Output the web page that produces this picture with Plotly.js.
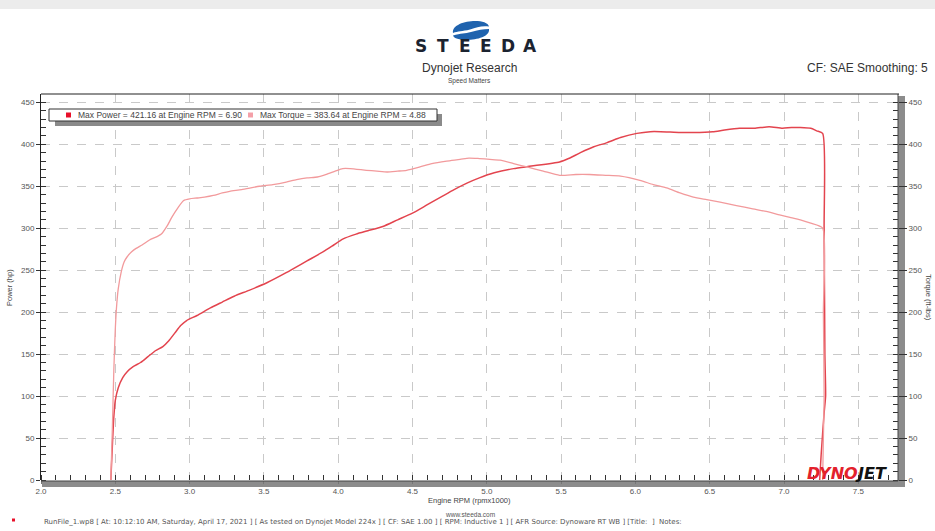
<!DOCTYPE html>
<html>
<head>
<meta charset="utf-8">
<script src="https://cdn.plot.ly/plotly-3.0.1.min.js"></script>
<style>
html,body{margin:0;padding:0;background:#fff;}
#chart{width:935px;height:531px;}
</style>
</head>
<body>
<div id="chart"></div>
<script>
// ---------------- DATA ----------------
const powerRpm = [2.47,2.48,2.49,2.50,2.52,2.55,2.58,2.62,2.67,2.72,2.77,2.82,2.86,2.90,2.94,2.98,3.05,3.14,3.22,3.30,3.40,3.52,3.65,3.79,3.90,3.97,4.03,4.12,4.20,4.30,4.40,4.50,4.60,4.69,4.78,4.87,4.95,5.05,5.18,5.30,5.49,5.55,5.63,5.72,5.81,5.90,6.01,6.10,6.17,6.30,6.39,6.52,6.60,6.70,6.80,6.90,6.99,7.05,7.11,7.18,7.22,7.26,7.27,7.275,7.28,7.27,7.25,7.24];
const powerHp  = [0,40,75,95,110,122,129,135,140,147,154,159,166,175,184,190,196,205,212,219,226,235,247,261,272,280,287,293,297,302,310,318,328,337,346,354,360,366,371,374,379,383,390,397,402,408,413,415,415,414,414,415,417,419,419,421,419,420,420,419,416,413,300,150,100,80,30,0];

const torqueRpm = [2.47,2.48,2.49,2.50,2.51,2.52,2.54,2.56,2.58,2.61,2.64,2.68,2.73,2.78,2.81,2.85,2.88,2.92,2.96,3.00,3.05,3.10,3.16,3.22,3.27,3.35,3.47,3.56,3.65,3.72,3.79,3.86,3.92,3.98,4.03,4.08,4.19,4.26,4.33,4.40,4.46,4.55,4.63,4.73,4.82,4.88,4.95,5.02,5.09,5.18,5.27,5.38,5.49,5.60,5.69,5.80,5.90,6.03,6.12,6.21,6.30,6.39,6.48,6.57,6.68,6.79,6.88,6.97,7.04,7.11,7.18,7.26,7.265,7.27,7.265,7.26];
const torqueFtLb = [0,60,130,180,210,228,248,260,266,272,276,280,286,290,293,303,313,324,333,335,336,337,339,342,344,346,350,352,355,358,360,361,364,368,371,371,369,368,367,368,369,373,377,380,382,383.6,383,382,381,377,373,368,363,364,364,363,362,357,352,348,342,337,334,331,327,323,320,316,313,310,306,300,200,100,50,0];

const maxPower = "421.16", maxPowerRpm = "6.90";
const maxTorque = "383.64", maxTorqueRpm = "4.88";

const xTickVals = [2.0,2.5,3.0,3.5,4.0,4.5,5.0,5.5,6.0,6.5,7.0,7.5];
const xTickText = ["2.0","2.5","3.0","3.5","4.0","4.5","5.0","5.5","6.0","6.5","7.0","7.5"];
const yTickVals = [0,50,100,150,200,250,300,350,400,450];

const footerText = "RunFile_1.wp8 [ At: 10:12:10 AM, Saturday, April 17, 2021 ] [ As tested on Dynojet Model 224x ] [ CF: SAE 1.00 ] [ RPM: Inductive 1 ] [ AFR Source: Dynoware RT WB ] [Title:  ]  Notes:";

// ---------------- GEOMETRY helpers ----------------
const W = 935, H = 531;
const L = 41, R = 898, T = 94, B = 480;
const px = x => (x - L) / (R - L);
const py = y => (B - y) / (B - T);
const pxPerRpm = 148.6, pxPerUnit = 0.8393;
const xMax = 2 + (R - L) / pxPerRpm;
const yMax = (B - T) / pxPerUnit;

const POWER_C = '#e3444e';
const TORQUE_C = '#f29a9c';
const FONT = 'Liberation Sans, Arial, sans-serif';
const DJ = 'DejaVu Sans, sans-serif';

function pathFrom(cmds){
  return cmds.map(c => {
    const l = c[0]; const n = c.slice(1);
    const pts = [];
    for (let i=0;i<n.length;i+=2) pts.push(px(n[i]).toFixed(5)+','+py(n[i+1]).toFixed(5));
    return l + pts.join(' ');
  }).join(' ') ;
}

const traces = [
  {x: torqueRpm, y: torqueFtLb, type:'scatter', mode:'lines', yaxis:'y2',
   line:{color:TORQUE_C, width:1.3, shape:'spline', smoothing:0.6}, showlegend:false, hoverinfo:'skip'},
  {x: powerRpm, y: powerHp, type:'scatter', mode:'lines',
   line:{color:POWER_C, width:1.5, shape:'spline', smoothing:0.6}, showlegend:false, hoverinfo:'skip'}
];

const shapes = [
  {type:'rect', xref:'paper', yref:'paper', x0:px(0), x1:px(W), y0:py(0), y1:py(9), fillcolor:'#ececec', line:{width:0}, layer:'below'},
  {type:'rect', xref:'paper', yref:'paper', x0:px(42), x1:px(905), y0:py(481), y1:py(487), fillcolor:'#8c8c8c', line:{width:0}, layer:'below'},
  {type:'rect', xref:'paper', yref:'paper', x0:px(898), x1:px(905), y0:py(T+2), y1:py(487), fillcolor:'#8c8c8c', line:{width:0}, layer:'below'},
  {type:'line', xref:'paper', yref:'paper', x0:px(898), x1:px(898), y0:py(T), y1:py(481), line:{color:'#444', width:1}},
  {type:'line', xref:'paper', yref:'paper', x0:px(L), x1:px(899), y0:py(T), y1:py(T), line:{color:'#222', width:1.2}},
  {type:'line', xref:'paper', yref:'paper', x0:px(L), x1:px(898), y0:py(481), y1:py(481), line:{color:'#444', width:1}},
  {type:'rect', xref:'paper', yref:'paper', x0:px(55), x1:px(442), y0:py(114), y1:py(126), fillcolor:'#8a8a8a', line:{width:0}},
  {type:'rect', xref:'paper', yref:'paper', x0:px(49), x1:px(437), y0:py(109), y1:py(121), fillcolor:'#ffffff', line:{color:'#333', width:1}},
  {type:'rect', xref:'paper', yref:'paper', x0:px(66), x1:px(71), y0:py(112.5), y1:py(117.5), fillcolor:'#e8102a', line:{width:0}},
  {type:'rect', xref:'paper', yref:'paper', x0:px(248), x1:px(253), y0:py(112.5), y1:py(117.5), fillcolor:'#f4a0a8', line:{width:0}},
  {type:'rect', xref:'paper', yref:'paper', x0:px(12), x1:px(15), y0:py(518.5), y1:py(521.5), fillcolor:'#e8102a', line:{width:0}},
  {type:'path', xref:'paper', yref:'paper', fillcolor:'#1f63ae', line:{width:0},
   path: pathFrom([['M',453,33],['C',451,20, 487,17, 489,26.5],['C',481,25.5, 477,27.5, 470,29.5],['C',462,31.5, 458,31, 453,33],['Z']])},
  {type:'path', xref:'paper', yref:'paper', fillcolor:'#1f63ae', line:{width:0},
   path: pathFrom([['M',489,29],['C',491,41, 455,43, 453,35.5],['C',461,33, 465,34, 471,32],['C',478,30, 483,29, 489,29],['Z']])}
];

const ann = [];
function A(text, x, y, size, opts){
  ann.push(Object.assign({text:text, xref:'paper', yref:'paper', x:px(x), y:py(y), showarrow:false,
    xanchor:'center', yanchor:'middle', font:{family:FONT, size:size, color:'#333'}}, opts||{}));
}
const steeda = "STEEDA".split("");
steeda.forEach((ch,i)=>{
  A("<b>" + ch + "</b>", 421 + i*21.8, 45.5, 17, {font:{family:DJ, size:17, color:'#1b2330'}});
});
A("Dynojet Research", 470, 67.5, 12, {font:{family:FONT, size:12, color:'#333'}});
A("Speed Matters", 470, 81, 6.5, {font:{family:FONT, size:6.5, color:'#444'}});
A("CF: SAE Smoothing: 5", 930, 67.5, 12, {xanchor:'right', font:{family:FONT, size:12, color:'#333'}});
A("Max Power = " + maxPower + " at Engine RPM = " + maxPowerRpm, 76, 115, 8.5, {xanchor:'left', font:{family:FONT, size:8.5, color:'#444'}});
A("Max Torque = " + maxTorque + " at Engine RPM = " + maxTorqueRpm, 258, 115, 8.5, {xanchor:'left', font:{family:FONT, size:8.5, color:'#444'}});
A("Power (hp)", 9, 288, 7.5, {textangle:-90, font:{family:FONT, size:7.5, color:'#444'}});
A("Torque (ft-lbs)", 929, 297, 7.5, {textangle:90, font:{family:FONT, size:7.5, color:'#444'}});
A("Engine RPM (rpmx1000)", 470, 500, 7.5, {font:{family:FONT, size:7.5, color:'#444'}});
A("www.steeda.com", 470, 514, 6.5, {font:{family:FONT, size:6.5, color:'#555'}});
A(footerText, 42, 522, 7, {xanchor:'left', font:{family:DJ, size:7, color:'#555'}});
A("<b><i>DYNO</i></b>", 859, 473.5, 16, {xanchor:'right', borderpad:0, font:{family:DJ, size:16, color:'#e3212b'}});
A("<b><i>JET</i></b>", 854, 473.5, 16, {xanchor:'left', borderpad:0, font:{family:DJ, size:16, color:'#111'}});

const tickFont = {family:FONT, size:8, color:'#555'};

const layout = {
  width: W, height: H,
  margin: {l:L, r:W-R, t:T, b:H-B, pad:0},
  paper_bgcolor:'#ffffff', plot_bgcolor:'rgba(0,0,0,0)',
  showlegend:false,
  xaxis:{range:[2, xMax], tickvals:xTickVals, ticktext:xTickText, ticks:'outside', ticklen:3, tickcolor:'#777',
    tickfont:tickFont, showgrid:true, gridcolor:'#c9c9c9', griddash:'dash', gridwidth:1, zeroline:false, showline:false,
    minor:{dtick:0.1, tick0:2, ticks:'inside', ticklen:5, tickcolor:'#333', showgrid:false}, fixedrange:true},
  yaxis:{range:[0, yMax], tickvals:yTickVals, ticks:'outside', ticklen:4, tickcolor:'#333', tickfont:tickFont,
    showgrid:true, gridcolor:'#c9c9c9', griddash:'dash', gridwidth:1, zeroline:false, showline:true, linecolor:'#222', linewidth:1,
    minor:{dtick:10, tick0:0, ticks:'inside', ticklen:5, tickcolor:'#333', showgrid:false}, fixedrange:true},
  yaxis2:{range:[0, yMax], overlaying:'y', side:'right', tickvals:yTickVals, ticks:'outside', ticklen:8, tickcolor:'#333', tickfont:tickFont,
    showgrid:false, zeroline:false, showline:false,
    minor:{dtick:10, tick0:0, ticks:'inside', ticklen:5, tickcolor:'#333'}, fixedrange:true},
  shapes: shapes,
  annotations: ann
};

Plotly.newPlot('chart', traces, layout, {staticPlot:true, displayModeBar:false});
</script>
</body>
</html>
